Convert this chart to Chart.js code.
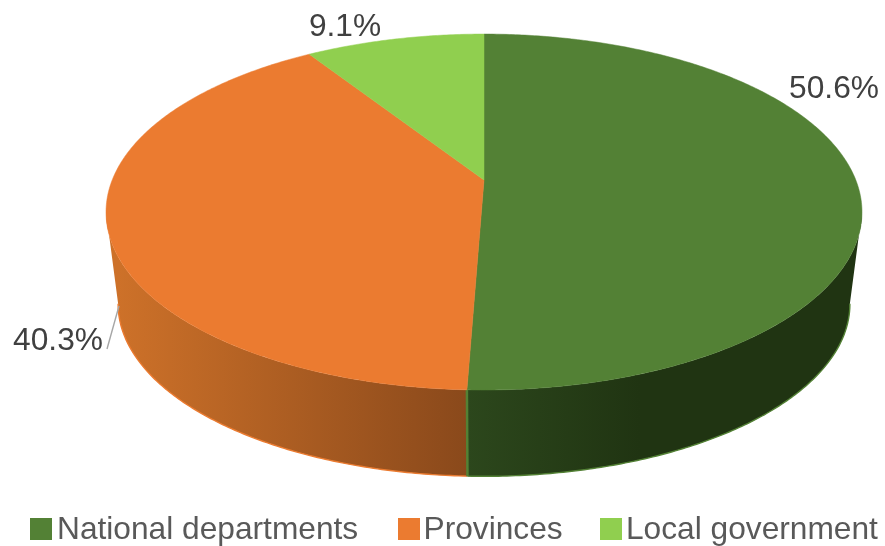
<!DOCTYPE html>
<html>
<head>
<meta charset="utf-8">
<style>
  html, body { margin: 0; padding: 0; background: #fff; }
  #wrap { width: 885px; height: 546px; }
</style>
<script src="https://cdn.jsdelivr.net/npm/chart.js@4/dist/chart.umd.js"></script>
</head>
<body>
<div id="wrap"><canvas id="chart" width="885" height="546"></canvas></div>
<script>
const categories = ['National departments', 'Provinces', 'Local government'];
const shares = [50.6, 40.3, 9.1];
const shareLabels = ['50.6%', '40.3%', '9.1%'];
const colors = ['#538135', '#EB7B30', '#90CF4F'];

// where the % labels sit, same order as categories
const labelPos = [[834, 89.5], [58, 341.5], [345, 27.5]];
// legend swatch left edges and text starts
const legendBoxX = [30, 398, 600];
const legendTextX = [57, 423.5, 626];

// wall shading, left to right
const wallShades = [
  ['#2C471C', '#203412'],
  ['#CD7129', '#8A491B'],
];

const FONT_SIZE = 31.7;
const FONT = 'Liberation Sans, Arial, sans-serif';

// perspective ellipse of the top face
const pie = { cx: 484, cy: 180, a: 371.8, b: 172.2, k: -0.18, midY: 212 };
const wall = { scale: 0.968, midY: 304 };
// only this part of the rim faces the viewer
const FRONT_START = 0.18;
const FRONT_END = Math.PI - 0.18;

function topPoint(angle) {
  const X = Math.cos(angle);
  const Y = Math.sin(angle);
  const w = 1 + pie.k * Y;
  return [pie.cx + pie.a * X / w, pie.cy + pie.b * Y / w];
}

function bottomPoint(angle) {
  const [x, y] = topPoint(angle);
  return [pie.cx + wall.scale * (x - pie.cx), wall.midY + wall.scale * (y - pie.midY)];
}

function angleSteps(start, end) {
  const steps = Math.max(2, Math.ceil((end - start) / 0.01));
  const list = [];
  for (let i = 0; i <= steps; i++) list.push(start + (end - start) * i / steps);
  return list;
}

function drawWall(ctx, arc, index) {
  const start = Math.max(arc.startAngle, FRONT_START);
  const end = Math.min(arc.endAngle, FRONT_END);
  if (end <= start) return;
  const angles = angleSteps(start, end);
  const gradient = index === 0
    ? ctx.createLinearGradient(467, 0, 640, 0)
    : ctx.createLinearGradient(118, 0, 466, 0);
  gradient.addColorStop(0, wallShades[index][0]);
  gradient.addColorStop(1, wallShades[index][1]);

  ctx.beginPath();
  angles.forEach((a, i) => {
    const [x, y] = topPoint(a);
    if (i === 0) ctx.moveTo(x, y);
    else ctx.lineTo(x, y);
  });
  angles.slice().reverse().forEach((a) => {
    const [x, y] = bottomPoint(a);
    ctx.lineTo(x, y);
  });
  ctx.closePath();
  ctx.fillStyle = gradient;
  ctx.fill();

  // thin bright edge along the floor
  ctx.beginPath();
  angles.forEach((a, i) => {
    const [x, y] = bottomPoint(a);
    if (i === 0) ctx.moveTo(x, y);
    else ctx.lineTo(x, y);
  });
  ctx.strokeStyle = colors[index];
  ctx.lineWidth = 1.4;
  ctx.stroke();
}

function drawTop(ctx, arc, index) {
  ctx.beginPath();
  ctx.moveTo(pie.cx, pie.cy);
  angleSteps(arc.startAngle, arc.endAngle).forEach((a) => {
    const [x, y] = topPoint(a);
    ctx.lineTo(x, y);
  });
  ctx.closePath();
  ctx.fillStyle = colors[index];
  ctx.strokeStyle = colors[index];
  ctx.lineWidth = 0.5;
  ctx.fill();
  ctx.stroke();
}

const pie3d = {
  id: 'pie3d',
  beforeDatasetsDraw(chart) {
    const ctx = chart.ctx;
    const arcs = chart.getDatasetMeta(0).data;
    ctx.save();
    drawWall(ctx, arcs[1], 1);
    drawWall(ctx, arcs[0], 0);

    // seam where the two front walls meet
    const seamTop = topPoint(arcs[0].endAngle);
    const seamBottom = bottomPoint(arcs[0].endAngle);
    ctx.beginPath();
    ctx.moveTo(seamTop[0], seamTop[1]);
    ctx.lineTo(seamBottom[0], seamBottom[1]);
    ctx.strokeStyle = colors[0];
    ctx.lineWidth = 2.5;
    ctx.stroke();

    arcs.forEach((arc, i) => drawTop(ctx, arc, i));
    ctx.restore();
    return false;
  },
  afterDraw(chart) {
    const ctx = chart.ctx;
    ctx.save();
    ctx.font = FONT_SIZE + 'px ' + FONT;
    ctx.fillStyle = '#404040';
    ctx.textAlign = 'center';
    ctx.textBaseline = 'middle';
    shareLabels.forEach((text, i) => ctx.fillText(text, labelPos[i][0], labelPos[i][1]));

    // leader line for the provinces label
    ctx.beginPath();
    ctx.moveTo(107, 349);
    ctx.lineTo(119, 306);
    ctx.strokeStyle = '#A6A6A6';
    ctx.lineWidth = 1.4;
    ctx.stroke();

    // the built-in legend can't fit these gaps on one row
    ctx.textAlign = 'left';
    ctx.textBaseline = 'alphabetic';
    categories.forEach((text, i) => {
      ctx.fillStyle = colors[i];
      ctx.fillRect(legendBoxX[i], 518, 22, 22);
      ctx.fillStyle = '#595959';
      ctx.fillText(text, legendTextX[i], 538.5);
    });
    ctx.restore();
  },
};

new Chart(document.getElementById('chart').getContext('2d'), {
  type: 'pie',
  data: {
    labels: categories,
    datasets: [{ data: shares, backgroundColor: colors, borderWidth: 0 }],
  },
  plugins: [pie3d],
  options: {
    responsive: false,
    animation: false,
    plugins: {
      tooltip: { enabled: false },
      legend: { display: false },
    },
  },
});
</script>
</body>
</html>
